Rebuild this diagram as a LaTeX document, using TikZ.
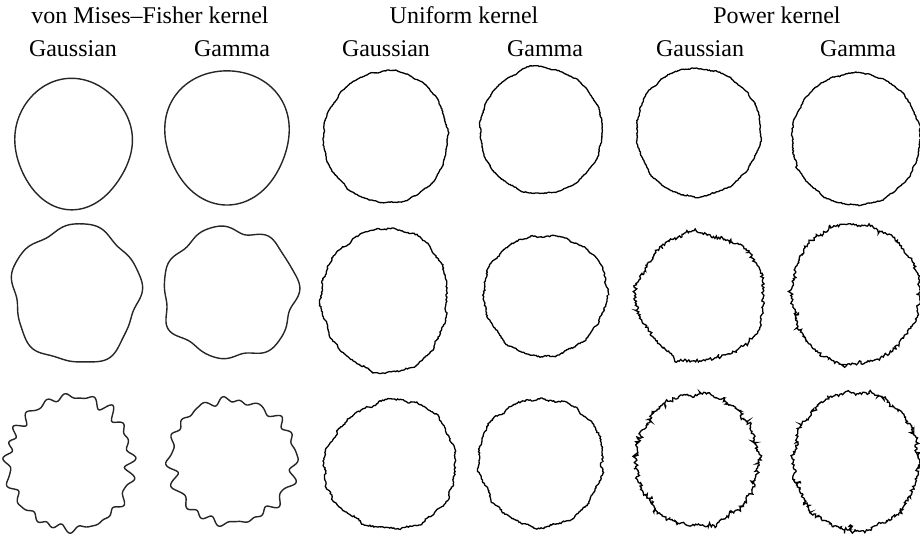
\documentclass[tikz,border=0pt]{standalone}
\usepackage{fontspec}
\setmainfont{Liberation Serif}
\usetikzlibrary{decorations.pathmorphing}
\begin{document}
\begin{tikzpicture}[x=0.5pt,y=-0.5pt,
  declare function={bmp(\t)=exp(max(-12,0-(\t)*(\t)));
    wob(\t,\p)=0.012*cos(9*\t+\p)+0.01*cos(14*\t+2.3*\p)+0.008*cos(22*\t+3.7*\p)+0.006*cos(33*\t+5.1*\p);},
  lab/.style={font=\fontsize{12}{14}\selectfont,anchor=base,inner sep=0pt},
  vmf/.style={line width=0.7pt,black!85,line join=round},
  roughA/.style={line width=0.65pt,decorate,decoration={random steps,segment length=1.4pt,amplitude=0.5pt}},
  roughB/.style={line width=0.65pt,decorate,decoration={random steps,segment length=1.2pt,amplitude=0.6pt}},
  roughC/.style={line width=0.65pt,decorate,decoration={random steps,segment length=1pt,amplitude=0.8pt}},
  roughD/.style={line width=0.65pt,decorate,decoration={random steps,segment length=0.9pt,amplitude=1pt}}]
\useasboundingbox (0,0) rectangle (920,534);
\pgfmathsetseed{11}
\node[lab] (vmf) at (150,24) {von Mises--Fisher kernel};
\node[lab] (unif) at (464,24) {Uniform kernel};
\node[lab] (pow) at (777,24) {Power kernel};
\node[lab] (vmfga) at (73,57) {Gaussian};
\node[lab] (vmfgm) at (232,57) {Gamma};
\node[lab] (unifga) at (386,57) {Gaussian};
\node[lab] (unifgm) at (545,57) {Gamma};
\node[lab] (powga) at (700,57) {Gaussian};
\node[lab] (powgm) at (858,57) {Gamma};
\foreach \cx/\cy/\rad/\f/\st in {
  73/143/61.5/{1-0.057*cos(2*\x)+0.02*cos(3*\x+60)+0.012*cos(4*\x)}/vmf,
  227/136/64.5/{1-0.04*cos(2*\x)+0.03*cos(3*\x+90)}/vmf,
  386/137/64/{1-0.03*cos(2*\x)+0.012*cos(3*\x+200)+0.6*wob(\x,30)+0.006*rand}/roughA,
  541/131/62/{1-0.01*cos(2*\x)+0.045*bmp((\x-262)*0.08)-0.02*bmp((\x-180)*0.15)+0.5*wob(\x,140)+0.006*rand}/roughA,
  698/132/63/{1-0.016*cos(2*\x)+0.015*cos(3*\x+30)+0.6*wob(\x,250)+0.008*rand}/roughA,
  856/139/65/{1-0.015*cos(2*\x)+0.03*bmp((\x-154)*0.5)+0.5*wob(\x,75)+0.008*rand}/roughA,
  76/294/66/{1-0.045*cos(2*\x)+0.05*cos(5*\x+50)+0.012*cos(11*\x+30)+0.015*cos(3*\x+100)}/vmf,
  230/293/66/{1+0.015*cos(2*\x)+0.045*cos(7*\x+20+25*cos(2*\x))+0.02*cos(4*\x+120)+0.012*cos(12*\x)}/vmf,
  385/300/67.5/{1-0.067*cos(2*\x)+0.02*cos(3*\x+150)+0.8*wob(\x,200)+0.01*rand}/roughB,
  545/295/61/{1+0.02*cos(3*\x+70)+0.015*cos(2*\x+40)+0.8*wob(\x,310)+0.01*rand}/roughB,
  701/297/64/{1+0.03*cos(5*\x+180)+0.8*wob(\x,120)+0.07*rand*rand*rand+0.01*rand}/roughC,
  855/294/67/{1-0.045*cos(2*\x)+0.015*cos(3*\x+20)+0.8*wob(\x,170)+0.07*rand*rand*rand+0.01*rand}/roughC,
  70/463/64/{1-0.035*cos(2*\x)+0.045*(1+0.4*cos(\x+60))*cos(20*\x+30+70*cos(3*\x))+0.03*cos(15*\x+100)+0.02*cos(27*\x+40)+0.015*cos(3*\x+200)}/vmf,
  232/461/62/{1+0.042*(1+0.4*cos(2*\x+10))*cos(18*\x+10+65*cos(2*\x+70))+0.028*cos(13*\x+140)+0.02*cos(25*\x+300)+0.02*cos(3*\x+40)+0.01*cos(2*\x)}/vmf,
  391/465/65/{1+0.025*cos(3*\x+210)+0.02*cos(2*\x+60)+wob(\x,95)+0.012*rand}/roughB,
  541/462/63/{1-0.015*cos(2*\x)+0.02*cos(3*\x+100)+wob(\x,230)+0.012*rand}/roughB,
  697/460/63.5/{1-0.04*cos(2*\x)+wob(\x,15)+0.09*rand*rand*rand+0.012*rand}/roughD,
  856/461/66/{1-0.05*cos(2*\x)+wob(\x,285)+0.09*rand*rand*rand+0.012*rand}/roughD}
  \draw[\st,shift={(\cx,\cy)}] plot[domain=0:358.5,samples=300] (\x:{\rad*(\f)}) -- cycle;
\end{tikzpicture}
\end{document}
